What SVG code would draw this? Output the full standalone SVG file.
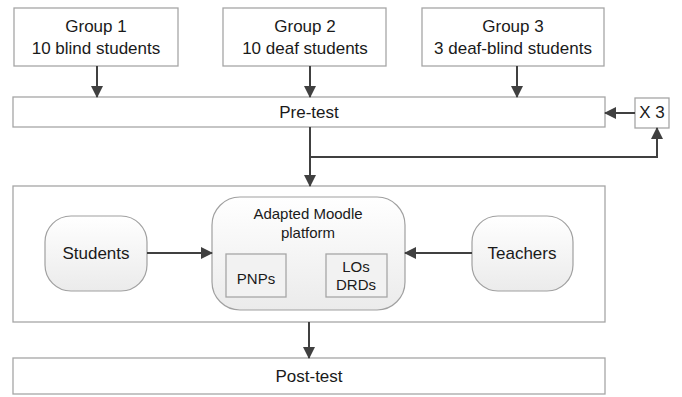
<svg xmlns="http://www.w3.org/2000/svg" width="682" height="397" viewBox="0 0 682 397">
<defs>
<linearGradient id="g" x1="0" y1="0" x2="0" y2="1">
<stop offset="0" stop-color="#ffffff"/>
<stop offset="1" stop-color="#ebebeb"/>
</linearGradient>
<marker id="ah" markerWidth="12" markerHeight="12" viewBox="0 0 12 12" refX="11" refY="6" orient="auto" markerUnits="userSpaceOnUse">
<path d="M0,0 L12,6 L0,12 z" fill="#404040"/>
</marker>
<style>
.box{fill:#fff;stroke:#a6a6a6;stroke-width:1.3}
.rnd{fill:url(#g);stroke:#a0a0a0;stroke-width:1.2}
.inner{fill:#f2f2f2;stroke:#a6a6a6;stroke-width:1.3}
.t{font-family:"Liberation Sans",Arial,sans-serif;font-size:17px;fill:#1a1a1a;text-anchor:middle}
.s{font-size:15px}
.c{fill:none;stroke:#404040;stroke-width:2;marker-end:url(#ah)}
.cl{fill:none;stroke:#404040;stroke-width:2}
</style>
</defs>
<g id="group1"><rect class="box" x="14" y="8" width="164" height="58"/><text class="t" x="96" y="32">Group 1</text><text class="t" x="96" y="54">10 blind students</text></g>
<g id="group2"><rect class="box" x="223" y="8" width="163" height="58"/><text class="t" x="305" y="32">Group 2</text><text class="t" x="305" y="54">10 deaf students</text></g>
<g id="group3"><rect class="box" x="422" y="8" width="182" height="58"/><text class="t" x="513" y="32">Group 3</text><text class="t" x="513" y="54">3 deaf-blind students</text></g>
<g id="pretest"><rect class="box" x="13" y="97" width="592" height="30"/><text class="t" x="309" y="118">Pre-test</text></g>
<g id="x3"><rect class="box" x="635" y="98" width="34" height="30"/><text class="t" x="652" y="118">X 3</text></g>
<g id="phase"><rect class="box" x="13" y="186" width="592" height="136"/></g>
<g id="students"><rect class="rnd" x="45" y="216" width="102" height="75" rx="26"/><text class="t" x="96" y="259">Students</text></g>
<g id="teachers"><rect class="rnd" x="472" y="216" width="101" height="75" rx="26"/><text class="t" x="522" y="259">Teachers</text></g>
<g id="moodle"><rect class="rnd" x="212" y="197" width="193" height="113" rx="28"/><text class="t s" x="308" y="219">Adapted Moodle</text><text class="t s" x="308" y="238">platform</text></g>
<g id="pnps"><rect class="inner" x="226" y="254" width="60" height="43"/><text class="t s" x="256" y="284">PNPs</text></g>
<g id="los"><rect class="inner" x="326" y="254" width="61" height="43"/><text class="t s" x="356" y="272">LOs</text><text class="t s" x="356" y="290">DRDs</text></g>
<g id="posttest"><rect class="box" x="13" y="358" width="592" height="36"/><text class="t" x="309" y="382">Post-test</text></g>
<g id="connectors">
<line class="c" x1="97" y1="66" x2="97" y2="97"/>
<line class="c" x1="310" y1="66" x2="310" y2="97"/>
<line class="c" x1="517" y1="66" x2="517" y2="97"/>
<line class="c" x1="310" y1="127" x2="310" y2="186"/>
<polyline class="c" points="310,157 657,157 657,128"/>
<line class="c" x1="635" y1="113" x2="605" y2="113"/>
<line class="c" x1="147" y1="253" x2="212" y2="253"/>
<line class="c" x1="472" y1="253" x2="405" y2="253"/>
<line class="c" x1="309" y1="322" x2="309" y2="358"/>
</g>
</svg>
